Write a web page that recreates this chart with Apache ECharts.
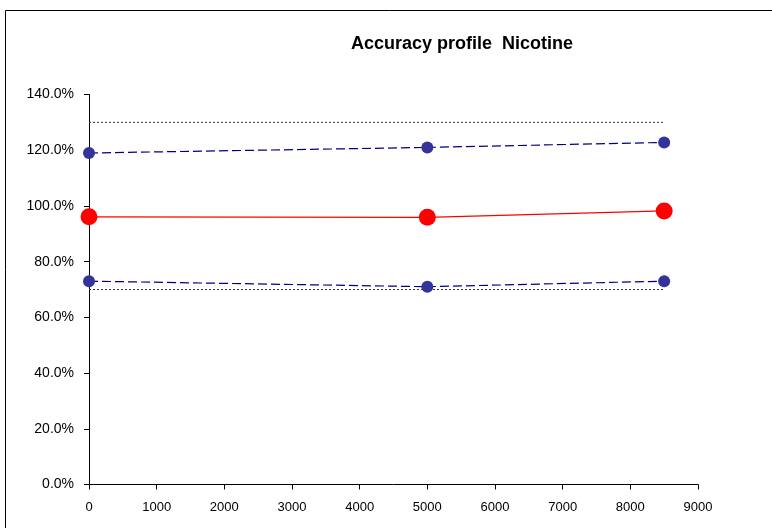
<!DOCTYPE html>
<html>
<head>
<meta charset="utf-8">
<script src="https://cdn.jsdelivr.net/npm/echarts@6/dist/echarts.min.js"></script>
<style>
  html, body { margin: 0; padding: 0; background: #fff; }
  #chart { width: 772px; height: 528px; }
</style>
</head>
<body>
<div id="chart"></div>
<script>
// Concentration levels (x) and accuracy values (%)
const concentrations = [0, 5000, 8500];
const meanRecovery = [96.1, 95.9, 98.2];
const upperTolerance = [119.0, 121.0, 122.8];
const lowerTolerance = [73.0, 71.0, 73.0];
const upperAcceptance = [130, 130];
const lowerAcceptance = [70, 70];
const limitRange = [0, 8500];
const titleText = 'Accuracy profile  Nicotine';

const pairs = (xs, ys) => xs.map((x, i) => [x, ys[i]]);

const chart = echarts.init(document.getElementById('chart'), null, { renderer: 'canvas' });

const navyDash = {
  type: 'line',
  symbol: 'circle',
  symbolSize: 12,
  itemStyle: { color: '#333399' },
  lineStyle: { color: '#000080', width: 1.2, type: [9, 4] },
  z: 3
};
const dotted = {
  type: 'line',
  symbol: 'none',
  lineStyle: { color: '#333333', width: 1, type: [2, 2] },
  z: 2
};

chart.setOption({
  animation: false,
  backgroundColor: '#ffffff',
  graphic: [{
    type: 'rect',
    shape: { x: 5.5, y: 10.5, width: 900, height: 700 },
    style: { fill: null, stroke: '#000000', lineWidth: 1 },
    silent: true
  }],
  title: {
    text: titleText,
    left: 457,
    top: 30,
    textAlign: 'center',
    textStyle: { fontFamily: 'Liberation Sans, Arial, sans-serif', fontWeight: 'bold', fontSize: 18, color: '#000' }
  },
  grid: { left: 89, right: 74, top: 94.5, bottom: 43.5, containLabel: false },
  xAxis: {
    type: 'value',
    min: 0, max: 9000, interval: 1000,
    axisLine: { lineStyle: { color: '#000', width: 1 } },
    axisTick: { show: true, inside: false, length: 5, lineStyle: { color: '#000' } },
    axisLabel: { color: '#000', fontSize: 13, margin: 16, fontFamily: 'Liberation Sans, Arial, sans-serif',
      formatter: v => String(v) },
    splitLine: { show: false }
  },
  yAxis: {
    type: 'value',
    min: 0, max: 140, interval: 20,
    axisLine: { show: true, lineStyle: { color: '#000', width: 1 } },
    axisTick: { show: true, inside: false, length: 5, lineStyle: { color: '#000' } },
    axisLabel: { color: '#000', fontSize: 14, margin: 15, fontFamily: 'Liberation Sans, Arial, sans-serif',
      formatter: v => v.toFixed(1) + '%' },
    splitLine: { show: false }
  },
  series: [
    Object.assign({ name: 'Upper acceptance', data: pairs(limitRange, upperAcceptance) }, dotted),
    Object.assign({ name: 'Lower acceptance', data: pairs(limitRange, lowerAcceptance) }, dotted),
    Object.assign({ name: 'Upper tolerance', data: pairs(concentrations, upperTolerance) }, navyDash),
    Object.assign({ name: 'Lower tolerance', data: pairs(concentrations, lowerTolerance) }, navyDash),
    {
      name: 'Mean recovery',
      type: 'line',
      data: pairs(concentrations, meanRecovery),
      symbol: 'circle',
      symbolSize: 17,
      itemStyle: { color: '#ff0000' },
      lineStyle: { color: '#ff0000', width: 1.2 },
      z: 4
    }
  ]
});
</script>
</body>
</html>
